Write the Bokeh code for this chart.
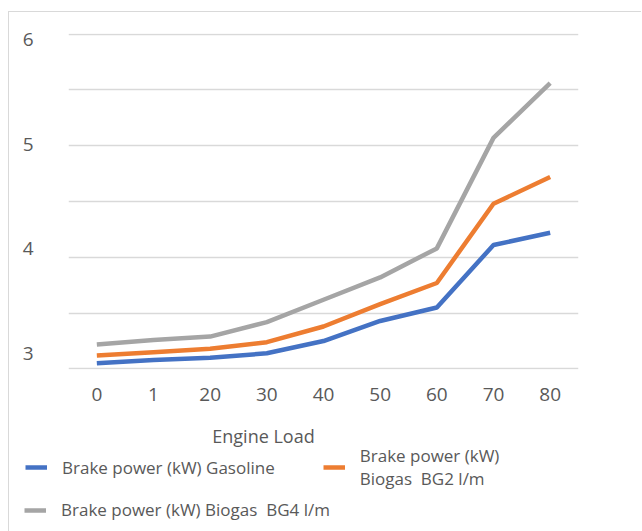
from bokeh.plotting import figure
from bokeh.layouts import column
from bokeh.models import (FixedTicker, Legend, LegendItem, Label, ColumnDataSource, Range1d)
from bokeh.embed import file_html
from bokeh.resources import INLINE

loads = ["0", "1", "20", "30", "40", "50", "60", "70", "80"]
gasoline = [3.05, 3.08, 3.10, 3.14, 3.25, 3.43, 3.55, 4.11, 4.22]
biogas_bg2 = [3.12, 3.15, 3.18, 3.24, 3.38, 3.58, 3.77, 4.48, 4.72]
biogas_bg4 = [3.22, 3.26, 3.29, 3.42, 3.62, 3.82, 4.08, 5.07, 5.56]
y_ticks = [3, 4, 5, 6]
y_minor = [3.5, 4.5, 5.5]

series_names = ["Brake power (kW) Gasoline",
                "Brake power (kW)\nBiogas  BG2 l/m",
                "Brake power (kW) Biogas  BG4 l/m"]
colors = ["#4472C4", "#ED7D31", "#A5A5A5"]

FONT = "Open Sans"
TXT = "#595959"

src = ColumnDataSource(dict(x=loads, g=gasoline, b2=biogas_bg2, b4=biogas_bg4))

# ---- main chart ----
# the value labels of the reference sit slightly off their gridlines;
# the label axis uses its own range, data and grid use the "data" range
p = figure(width=632, height=396, x_range=loads, y_range=Range1d(2.847, 6.057),
           output_backend="svg", toolbar_location=None,
           min_border_left=59, min_border_right=63,
           min_border_top=21, min_border_bottom=39)
p.extra_y_ranges = {"data": Range1d(2.995, 6.005)}
p.x_range.range_padding = 0
p.outline_line_color = None

p.line("x", "g", source=src, y_range_name="data", line_color=colors[0], line_width=4.5)
p.line("x", "b2", source=src, y_range_name="data", line_color=colors[1], line_width=4.5)
p.line("x", "b4", source=src, y_range_name="data", line_color=colors[2], line_width=4.5)

p.xgrid.grid_line_color = None
p.ygrid.y_range_name = "data"
p.ygrid.ticker = FixedTicker(ticks=y_ticks, minor_ticks=y_minor)
p.ygrid.grid_line_color = "#d9d9d9"
p.ygrid.grid_line_width = 1.3
p.ygrid.minor_grid_line_color = "#d9d9d9"
p.ygrid.minor_grid_line_width = 1.3
p.yaxis.ticker = FixedTicker(ticks=y_ticks)

for ax in (p.xaxis, p.yaxis):
    ax.axis_line_color = None
    ax.major_tick_line_color = None
    ax.minor_tick_line_color = None
    ax.major_label_text_font = FONT
    ax.major_label_text_font_size = "19px"
    ax.major_label_text_color = TXT
p.yaxis.major_label_standoff = 29
p.xaxis.major_label_standoff = 12

# ---- axis title + legend strip ----
q = figure(width=632, height=123, x_range=loads, y_range=(0, 1),
           output_backend="svg", toolbar_location=None,
           x_axis_location=None, y_axis_location=None,
           min_border_left=0, min_border_right=0, min_border_top=0, min_border_bottom=0)
q.grid.grid_line_color = None
q.outline_line_color = None
q1 = q.line("x", "g", source=src, line_color=colors[0], line_width=4.5)
q2 = q.line("x", "b2", source=src, line_color=colors[1], line_width=4.5)
q3 = q.line("x", "b4", source=src, line_color=colors[2], line_width=4.5)

q.add_layout(Label(x=254, y=96, x_units="screen", y_units="screen",
                   text="Engine Load", text_font=FONT, text_font_size="18px",
                   text_color=TXT, text_align="center", text_baseline="middle"))

def make_legend(items, loc):
    return Legend(items=items, location=loc, orientation="horizontal",
                  label_text_font=FONT, label_text_font_size="17px",
                  label_text_color=TXT, label_text_line_height=1.6,
                  glyph_width=22, glyph_height=20,
                  label_standoff=15, spacing=48, padding=0, margin=0,
                  border_line_color=None, background_fill_alpha=0)

q.add_layout(make_legend([LegendItem(label=series_names[0], renderers=[q1]),
                          LegendItem(label=series_names[1], renderers=[q2])], (16, 41)))
q.add_layout(make_legend([LegendItem(label=series_names[2], renderers=[q3])], (15, 10)))

layout = column(column(p), column(q), spacing=0)
layout.margin = (11, 0, 0, 8)
layout.styles = {"border-left": "1px solid #d9d9d9", "border-top": "1px solid #d9d9d9"}
open("out.html", "w").write(file_html(layout, INLINE))
